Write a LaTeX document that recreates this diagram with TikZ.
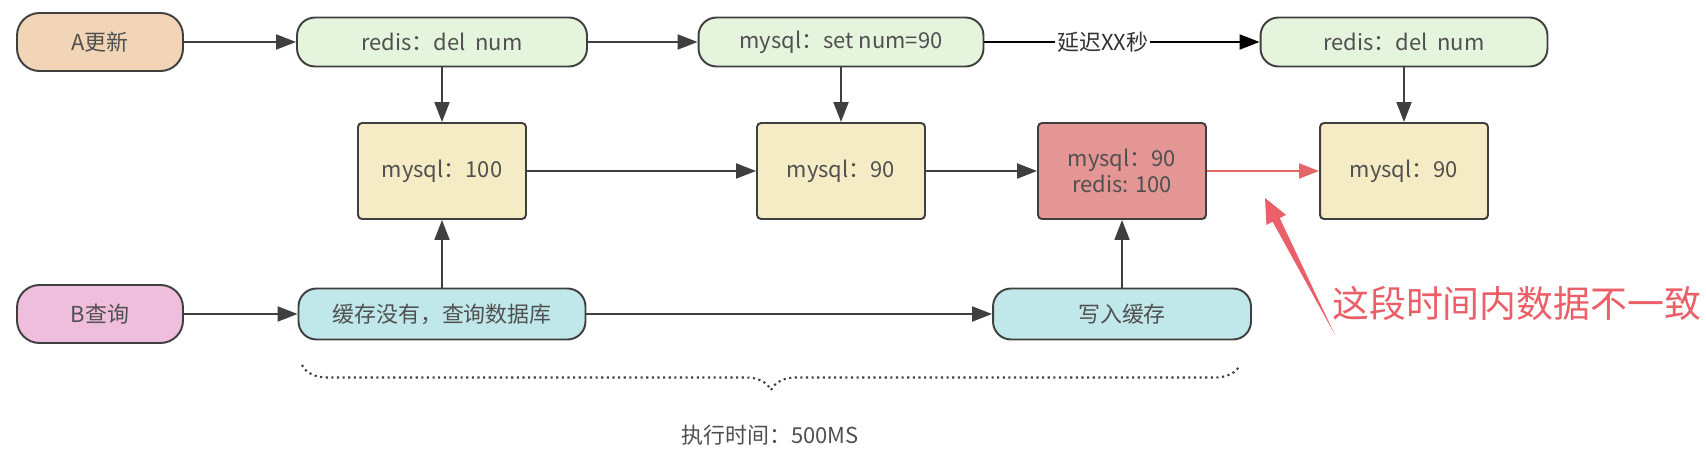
\documentclass[tikz,border=0pt]{standalone}
\usepackage{fontspec}
\setmainfont{Noto Sans CJK SC}
\usetikzlibrary{arrows.meta, calc, decorations.pathreplacing}

\definecolor{linegray}{HTML}{3F3F3F}
\definecolor{txtgray}{HTML}{505050}
\definecolor{peach}{HTML}{F2D5B7}
\definecolor{pink}{HTML}{EFBEDC}
\definecolor{cmdgreen}{HTML}{E5F4DC}
\definecolor{qrycyan}{HTML}{C0E8EA}
\definecolor{stateyellow}{HTML}{F5ECC5}
\definecolor{badred}{HTML}{E49695}
\definecolor{notered}{HTML}{EA5F68}
\definecolor{linkred}{HTML}{E26868}

\begin{document}
\begin{tikzpicture}[
        x=0.02cm, y=-0.02cm,
        every node/.style={font=\fontsize{12.5}{15}\selectfont, text=txtgray},
        actor/.style={rectangle, draw=linegray, line width=1.1pt, rounded corners=0.45cm, minimum width=3.32cm, minimum height=1.16cm},
        cmd/.style={rectangle, draw=linegray, line width=1.1pt, fill=cmdgreen, rounded corners=0.36cm, minimum height=0.98cm},
        qry/.style={rectangle, draw=linegray, line width=1.1pt, fill=qrycyan, rounded corners=0.36cm, minimum height=1.02cm},
        state/.style={rectangle, draw=linegray, line width=1.1pt, fill=stateyellow, rounded corners=0.08cm, minimum width=3.36cm, minimum height=1.92cm, align=center},
        arrow/.style={-{Triangle[length=0.4cm, width=0.3cm]}, line width=1.1pt, draw=linegray},
        lbl/.style={fill=white, inner sep=1pt, text=black!80}
    ]
        \useasboundingbox (0,0) rectangle (1706,462);

        \node[actor, fill=peach] (aupd) at (100,42) {A更新};
        \node[cmd, minimum width=5.8cm] (rdel1) at (442,42) {redis：del~~num};
        \node[cmd, minimum width=5.7cm] (mset) at (841,42) {mysql：set num=90};
        \node[cmd, minimum width=5.74cm] (rdel2) at (1404,42) {redis：del~~num};

        \node[state] (my100) at (442,171) {mysql：100};
        \node[state] (my90a) at (841,171) {mysql：90};
        \node[state, fill=badred] (mixed) at (1122,171) {mysql：90\\redis: 100};
        \node[state] (my90b) at (1404,171) {mysql：90};

        \node[actor, fill=pink] (bqry) at (100,314) {B查询};
        \node[qry, minimum width=5.74cm] (qdb) at (442,314) {缓存没有，查询数据库};
        \node[qry, minimum width=5.16cm] (wcache) at (1122,314) {写入缓存};

        \node (cost) at (770,435) {执行时间：500MS};
        \node[anchor=west, font=\fontsize{21}{25}\selectfont, text=notered] (note) at (1326,303) {这段时间内数据不一致};

        \coordinate (bl) at (302,365);
        \coordinate (br) at (1240,365);
        \coordinate (tip) at (1265,198);
        \coordinate (tail) at (1335,335);
        \coordinate (hb) at ($(tip)!0.16!(tail)$);

        \draw[arrow] (aupd) -- (rdel1);
        \draw[arrow] (rdel1) -- (mset);
        \draw[arrow, draw=black] (mset) -- (rdel2) node[pos=0.43, lbl] {延迟XX秒};
        \draw[arrow] (rdel1) -- (my100);
        \draw[arrow] (mset) -- (my90a);
        \draw[arrow] (rdel2) -- (my90b);
        \draw[arrow] (my100) -- (my90a);
        \draw[arrow] (my90a) -- (mixed);
        \draw[arrow, draw=linkred] (mixed) -- (my90b);
        \draw[arrow] (bqry) -- (qdb);
        \draw[arrow] (qdb) -- (wcache);
        \draw[arrow] (qdb) -- (my100);
        \draw[arrow] (wcache) -- (mixed);

        \draw[decorate, decoration={brace, mirror, amplitude=0.5cm}, dotted, line width=1.2pt, draw=linegray] (bl) -- (br);
        \fill[notered] (tail) -- ($(hb)!0.08cm!90:(tip)$) -- ($(hb)!0.22cm!90:(tip)$) -- (tip) -- ($(hb)!0.22cm!-90:(tip)$) -- ($(hb)!0.08cm!-90:(tip)$) -- cycle;
    \end{tikzpicture}
\end{document}
